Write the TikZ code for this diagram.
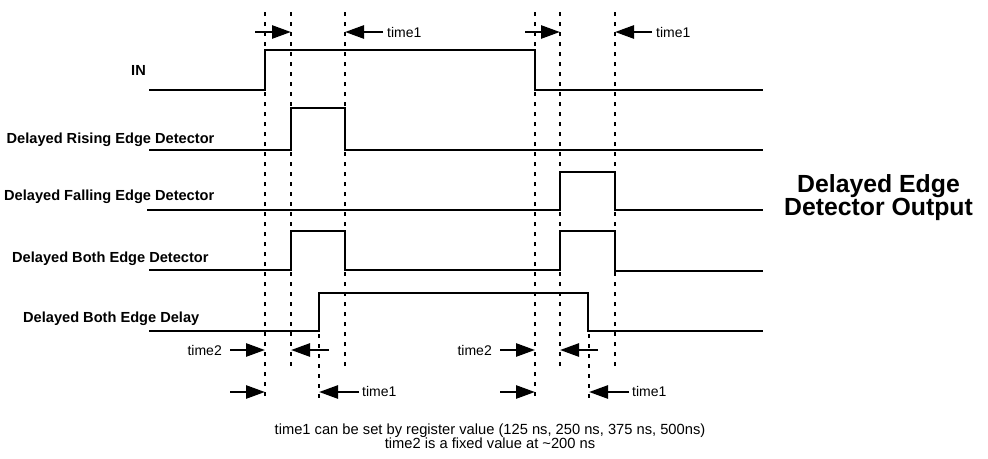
\documentclass[tikz,border=0pt]{standalone}
\usepackage{fontspec}
\setmainfont{Liberation Sans}
\usetikzlibrary{arrows.meta}
\begin{document}
\begin{tikzpicture}[x=1pt,y=-1pt,
  sig/.style={line width=2.6pt, line join=miter},
  vdot/.style={line width=2pt, dash pattern=on 3.5pt off 6.5pt},
  tarr/.style={line width=2.6pt, -{Triangle[length=19pt,width=13pt]}},
  lbl/.style={font=\bfseries\fontsize{14.6}{16}\selectfont, anchor=base west, inner sep=0pt},
  tlbl/.style={font=\fontsize{14}{16}\selectfont, inner sep=0pt},
  title/.style={font=\bfseries\fontsize{24.8}{23}\selectfont, align=center, inner sep=0pt},
  note/.style={font=\fontsize{14.7}{14}\selectfont, align=center, inner sep=0pt}]
\useasboundingbox (0,0) rectangle (988,458);

% dotted time markers
\foreach \x in {265,535} \draw[vdot] (\x,12) -- (\x,400);
\foreach \x in {291,345,560,615} \draw[vdot] (\x,12) -- (\x,366);
\foreach \x in {319,589} \draw[vdot] (\x,334) -- (\x,400);

% signals
\draw[sig] (149,90) -- (265,90) -- (265,50) -- (535,50) -- (535,90) -- (763,90);
\draw[sig] (149,150) -- (291,150) -- (291,108) -- (345,108) -- (345,150) -- (763,150);
\draw[sig] (147,210) -- (560,210) -- (560,172) -- (615,172) -- (615,210) -- (763,210);
\draw[sig] (149,270) -- (291,270) -- (291,231) -- (345,231) -- (345,270) -- (560,270) -- (560,231) -- (615,231) -- (615,271) -- (763,271);
\draw[sig] (149,331) -- (319,331) -- (319,293) -- (588,293) -- (588,331) -- (763,331);

% signal labels
\node[lbl] (lin) at (131,75) {IN};
\node[lbl] (lrise) at (6.5,143) {Delayed Rising Edge Detector};
\node[lbl] (lfall) at (4,200) {Delayed Falling Edge Detector};
\node[lbl] (lboth) at (12,262) {Delayed Both Edge Detector};
\node[lbl] (ldel) at (23,322) {Delayed Both Edge Delay};

% title
\node[title] (ttl) at (878.5,198) {Delayed Edge\\Detector Output};

% top arrows
\coordinate (a1s) at (255,32); \coordinate (a1e) at (291,32);
\draw[tarr] (a1s) -- (a1e);
\node[tlbl, anchor=west] (t1a) at (387,32) {time1};
\coordinate (a2e) at (345,32);
\draw[tarr] (t1a.west) ++(-4,0) -- (a2e);
\coordinate (a3s) at (525,32); \coordinate (a3e) at (560,32);
\draw[tarr] (a3s) -- (a3e);
\node[tlbl, anchor=west] (t1b) at (656,32) {time1};
\coordinate (a4e) at (615,32);
\draw[tarr] (t1b.west) ++(-4,0) -- (a4e);

% bottom row 1 (time2)
\node[tlbl, anchor=east] (t2a) at (222,350) {time2};
\coordinate (b1e) at (265,350);
\draw[tarr] (t2a.east) ++(8,0) -- (b1e);
\coordinate (b2s) at (329,350); \coordinate (b2e) at (291,350);
\draw[tarr] (b2s) -- (b2e);
\node[tlbl, anchor=east] (t2b) at (492,350) {time2};
\coordinate (b3e) at (535,350);
\draw[tarr] (t2b.east) ++(8,0) -- (b3e);
\coordinate (b4s) at (598,350); \coordinate (b4e) at (560,350);
\draw[tarr] (b4s) -- (b4e);

% bottom row 2 (time1)
\coordinate (c1s) at (230,392); \coordinate (c1e) at (265,392);
\draw[tarr] (c1s) -- (c1e);
\node[tlbl, anchor=west] (t1c) at (362,391) {time1};
\coordinate (c2e) at (319,392);
\draw[tarr] (t1c.west) ++(-3,1) -- (c2e);
\coordinate (c3s) at (500,392); \coordinate (c3e) at (535,392);
\draw[tarr] (c3s) -- (c3e);
\node[tlbl, anchor=west] (t1d) at (632,391) {time1};
\coordinate (c4e) at (589,392);
\draw[tarr] (t1d.west) ++(-3,1) -- (c4e);

% notes
\node[note, anchor=base] (n1) at (490,434) {time1 can be set by register value (125 ns, 250 ns, 375 ns, 500ns)};
\node[note, anchor=base] (n2) at (490,448) {time2 is a fixed value at \textasciitilde200 ns};
\end{tikzpicture}
\end{document}
